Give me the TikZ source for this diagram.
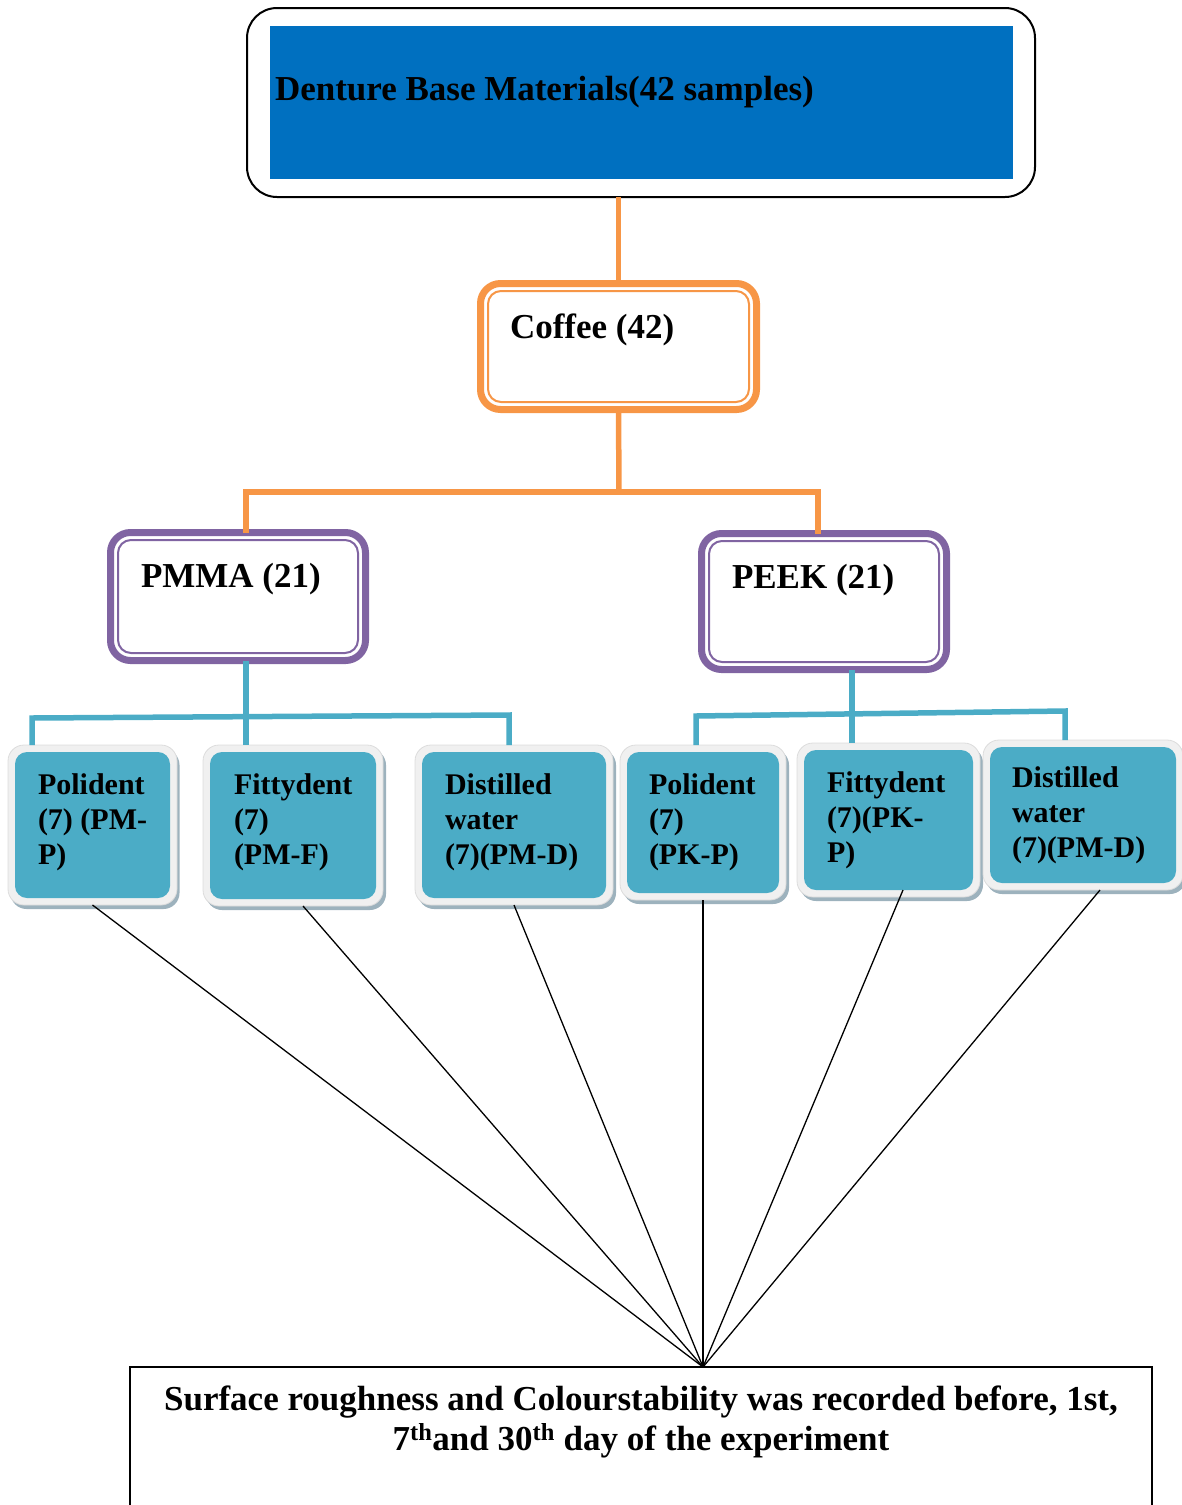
\documentclass[tikz,border=0pt]{standalone}
\usepackage{fontspec}
\setmainfont{Liberation Serif}
\usetikzlibrary{calc}
\definecolor{dblue}{HTML}{0070C0}
\definecolor{orng}{HTML}{F79646}
\definecolor{purp}{HTML}{8064A2}
\definecolor{aqua}{HTML}{4BACC6}
\definecolor{framegray}{HTML}{F0F0F0}
\definecolor{frameedge}{HTML}{DCDCDC}
\definecolor{shadowcol}{HTML}{9DB2BD}
\newcommand{\lfcell}[1]{\begin{tabular}[t]{@{}l@{}}#1\end{tabular}}
\newcommand{\ctcell}[1]{\begin{tabular}[t]{@{}c@{}}#1\end{tabular}}
\begin{document}
\begin{tikzpicture}[x=1pt,y=-1pt,
  plain/.style={inner sep=0pt, outer sep=0pt, rectangle},
  bigtxt/.style={inner sep=0pt, outer sep=0pt, font=\fontsize{35}{42}\selectfont\bfseries},
  leaftxt/.style={inner sep=0pt, outer sep=0pt, font=\fontsize{30}{35}\selectfont\bfseries},
  dbox/.style={plain, draw=#1, line width=7pt, rounded corners=20pt, fill=white},
  innerline/.style={draw=#1, line width=2pt, rounded corners=13pt},
  leafframe/.style={plain, fill=framegray, draw=frameedge, line width=0.8pt, rounded corners=16pt},
  leafshadow/.style={plain, fill=shadowcol, rounded corners=16pt},
  leafbox/.style={plain, fill=aqua, rounded corners=12pt},
  olink/.style={draw=orng, line width=5.5pt},
  blink/.style={draw=aqua, line width=5.5pt},
  klink/.style={draw=black, line width=1.3pt},
]
\useasboundingbox (0,0) rectangle (1182,1505);
\clip (0,0) rectangle (1182,1505);

% ---------- top box ----------
\node[plain, draw=black, line width=2pt, rounded corners=30pt, minimum width=788pt, minimum height=189pt] (top) at (641,102.5) {};
\node[plain, fill=dblue, minimum width=743pt, minimum height=153pt] (topin) at (641.5,102.5) {};
\node[bigtxt, anchor=base west] (toptxt) at (275,100) {Denture Base Materials(42 samples)};

% ---------- coffee ----------
\node[dbox=orng, minimum width=276pt, minimum height=126pt] (coffee) at (618.5,346.5) {};
\draw[innerline=orng] ($(coffee.south west)+(7.5,-7.5)$) rectangle ($(coffee.north east)+(-7.5,7.5)$);
\node[bigtxt, anchor=base west] (coffeetxt) at (510,338) {Coffee (42)};

% ---------- PMMA / PEEK ----------
\node[dbox=purp, minimum width=255pt, minimum height=128pt] (pmma) at (238,596.5) {};
\draw[innerline=purp] ($(pmma.south west)+(7.5,-7.5)$) rectangle ($(pmma.north east)+(-7.5,7.5)$);
\node[bigtxt, anchor=base west] (pmmatxt) at (141,587) {PMMA (21)};

\node[dbox=purp, minimum width=245pt, minimum height=136pt] (peek) at (824,601.5) {};
\draw[innerline=purp] ($(peek.south west)+(7.5,-7.5)$) rectangle ($(peek.north east)+(-7.5,7.5)$);
\node[bigtxt, anchor=base west] (peektxt) at (732,588) {PEEK (21)};

% ---------- orange connectors ----------
\coordinate (obus) at (619,492);
\coordinate (oL) at (246,492);
\coordinate (oR) at (818,492);
\draw[olink] (coffee.north |- top.south) -- (coffee.north);
\draw[olink] (coffee.south) -- (obus);
\draw[olink] (oL |- pmma.north) -- (oL) -- (oR) -- (oR |- peek.north);

% ---------- leaf boxes ----------
% shadows
\node[leafshadow, minimum width=169pt, minimum height=160pt] (l1s) at (95,829) {};
\node[leafshadow, minimum width=180pt, minimum height=161pt] (l2s) at (296,829.5) {};
\node[leafshadow, minimum width=198pt, minimum height=160pt] (l3s) at (517,829) {};
\node[leafshadow, minimum width=166pt, minimum height=155pt] (l4s) at (706,826.5) {};
\node[leafshadow, minimum width=183pt, minimum height=154pt] (l5s) at (891.5,824) {};
\node[leafshadow, minimum width=200pt, minimum height=150pt] (l6s) at (1086,819) {};
% frames
\node[leafframe, minimum width=169pt, minimum height=160pt] (l1f) at (92.5,825) {};
\node[leafframe, minimum width=180pt, minimum height=161pt] (l2f) at (293,825.5) {};
\node[leafframe, minimum width=198pt, minimum height=160pt] (l3f) at (514,825) {};
\node[leafframe, minimum width=166pt, minimum height=155pt] (l4f) at (703,822.5) {};
\node[leafframe, minimum width=183pt, minimum height=154pt] (l5f) at (888.5,820) {};
\node[leafframe, minimum width=200pt, minimum height=150pt] (l6f) at (1083,815) {};
% blue inner boxes
\node[leafbox, minimum width=155pt, minimum height=146pt] (l1) at (92.5,825) {};
\node[leafbox, minimum width=166pt, minimum height=147pt] (l2) at (293,825.5) {};
\node[leafbox, minimum width=184pt, minimum height=146pt] (l3) at (514,825) {};
\node[leafbox, minimum width=152pt, minimum height=141pt] (l4) at (703,822.5) {};
\node[leafbox, minimum width=169pt, minimum height=140pt] (l5) at (888.5,820) {};
\node[leafbox, minimum width=186pt, minimum height=136pt] (l6) at (1083,815) {};
% texts
\node[leaftxt, anchor=base west] (l1txt) at (38,794) {\lfcell{Polident\\(7) (PM-\\P)}};
\node[leaftxt, anchor=base west] (l2txt) at (234,794) {\lfcell{Fittydent\\(7)\\(PM-F)}};
\node[leaftxt, anchor=base west] (l3txt) at (445,794) {\lfcell{Distilled\\water\\(7)(PM-D)}};
\node[leaftxt, anchor=base west] (l4txt) at (649,794) {\lfcell{Polident\\(7)\\(PK-P)}};
\node[leaftxt, anchor=base west] (l5txt) at (827,792) {\lfcell{Fittydent\\(7)(PK-\\P)}};
\node[leaftxt, anchor=base west] (l6txt) at (1012,787) {\lfcell{Distilled\\water\\(7)(PM-D)}};

% ---------- blue connectors ----------
\coordinate (bL) at (246,717);
\coordinate (b1) at (32,718);
\coordinate (b3) at (509,715);
\draw[blink] (bL |- pmma.south) -- (bL);
\draw[blink] (b1 |- l1f.north) -- (b1) -- (b3) -- (b3 |- l3f.north);
\draw[blink] (bL) -- (bL |- l2f.north);

\coordinate (bR) at (852,713.5);
\coordinate (b4) at (696,716);
\coordinate (b6) at (1065,711);
\draw[blink] (bR |- peek.south) -- (bR);
\draw[blink] (b4 |- l4f.north) -- (b4) -- (b6) -- (b6 |- l6f.north);
\draw[blink] (bR) -- (bR |- l5f.north);

% ---------- bottom box ----------
\node[plain, draw=black, line width=1.5pt, minimum width=1022pt, minimum height=233pt] (bottom) at (641,1483.5) {};
\node[inner sep=0pt, outer sep=0pt, anchor=base, font=\fontsize{35}{40}\selectfont\bfseries] (bottxt) at (641,1410)
  {\ctcell{Surface roughness and Colourstability was recorded before, 1st,\\7\textsuperscript{th}and 30\textsuperscript{th} day of the experiment}};

% ---------- black converging lines ----------
\coordinate (hub) at (703,1367);
\draw[klink] (l1f.south) -- (hub);
\draw[klink] ([xshift=10pt]l2f.south) -- (hub);
\draw[klink] (l3f.south) -- (hub);
\draw[klink] (l4f.south) -- (hub);
\draw[klink] ([xshift=14.5pt]l5.south) -- (hub);
\draw[klink] ([xshift=17pt]l6f.south) -- (hub);
\end{tikzpicture}
\end{document}
